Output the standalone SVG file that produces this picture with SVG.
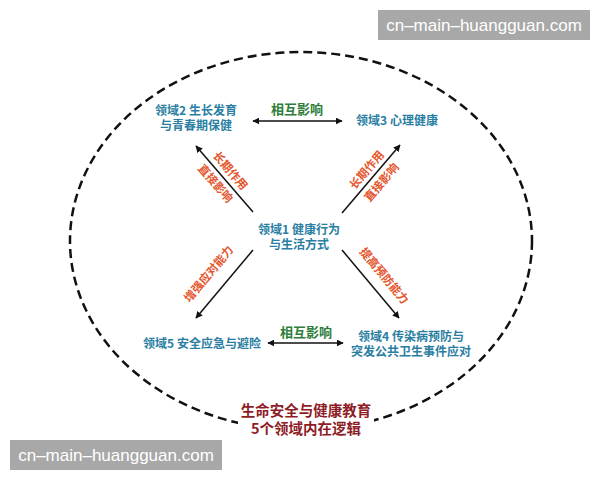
<svg xmlns="http://www.w3.org/2000/svg" width="600" height="480" viewBox="0 0 600 480">
<defs>
<marker id="ah" viewBox="0 0 10 10" refX="9" refY="5" markerWidth="7" markerHeight="7" markerUnits="userSpaceOnUse" orient="auto-start-reverse">
<path d="M0,0 L10,5 L0,10 Z" fill="#111"/>
</marker>
<style>
.node{font-family:"Noto Sans CJK SC","Liberation Sans",sans-serif;font-size:12px;font-weight:bold;fill:#2a7ea2;text-anchor:middle}
.mut{font-family:"Noto Sans CJK SC","Liberation Sans",sans-serif;font-size:13px;font-weight:bold;fill:#2e7d3a;text-anchor:middle}
.eff{font-family:"Noto Sans CJK SC","Liberation Sans",sans-serif;font-size:11.5px;font-weight:bold;fill:#e4572e;text-anchor:middle}
.title{font-family:"Noto Sans CJK SC","Liberation Sans",sans-serif;font-size:14.5px;font-weight:bold;fill:#8e1c26;text-anchor:middle}
.wm{font-family:"Liberation Sans",Arial,sans-serif;font-size:17px;fill:#ffffff}
.conn{stroke:#111;stroke-width:1.5;fill:none}
</style>
</defs>
<rect width="600" height="480" fill="#ffffff"/>
<ellipse cx="301" cy="241" rx="231" ry="189" fill="none" stroke="#111" stroke-width="2.5" stroke-dasharray="9 5"/>
<rect x="238" y="398" width="136" height="44" fill="#ffffff"/>
<g id="connectors">
<line class="conn" x1="253" y1="121" x2="342" y2="121" marker-start="url(#ah)" marker-end="url(#ah)"/>
<line class="conn" x1="268" y1="343" x2="343" y2="343" marker-start="url(#ah)" marker-end="url(#ah)"/>
<line class="conn" x1="253" y1="212" x2="196" y2="146" marker-end="url(#ah)"/>
<line class="conn" x1="342" y1="213" x2="400" y2="145" marker-end="url(#ah)"/>
<line class="conn" x1="253" y1="250" x2="196" y2="318" marker-end="url(#ah)"/>
<line class="conn" x1="342" y1="250" x2="399" y2="318" marker-end="url(#ah)"/>
<text class="mut" x="297" y="114">相互影响</text>
<text class="mut" x="306" y="337">相互影响</text>
<g transform="translate(223,177) rotate(49.2)">
<text class="eff" x="0" y="-5.5">长期作用</text>
<text class="eff" x="0" y="14">直接影响</text>
</g>
<g transform="translate(374,176) rotate(-49.5)">
<text class="eff" x="0" y="-5.5">长期作用</text>
<text class="eff" x="0" y="14">直接影响</text>
</g>
<g transform="translate(216,280) rotate(-50)">
<text class="eff" x="0" y="-5.5">增强应对能力</text>
</g>
<g transform="translate(378,281) rotate(50)">
<text class="eff" x="0" y="-4">提高预防能力</text>
</g>
</g>
<g id="node1">
<text class="node" x="299" y="234">领域1 健康行为</text>
<text class="node" x="299" y="249">与生活方式</text>
</g>
<g id="node2">
<text class="node" x="196" y="115">领域2 生长发育</text>
<text class="node" x="196" y="130">与青春期保健</text>
</g>
<g id="node3">
<text class="node" x="397" y="125">领域3 心理健康</text>
</g>
<g id="node4">
<text class="node" x="411" y="341">领域4 传染病预防与</text>
<text class="node" x="411" y="356">突发公共卫生事件应对</text>
</g>
<g id="node5">
<text class="node" x="202" y="348">领域5 安全应急与避险</text>
</g>
<g id="title">
<text class="title" x="306" y="416">生命安全与健康教育</text>
<text class="title" x="306" y="434">5个领域内在逻辑</text>
</g>
<g id="watermarks">
<rect x="378" y="10" width="212" height="30" fill="#a8a8a8"/>
<text class="wm" x="484" y="31" text-anchor="middle">cn–main–huangguan.com</text>
<rect x="10" y="440" width="212" height="30" fill="#a8a8a8"/>
<text class="wm" x="116" y="461" text-anchor="middle">cn–main–huangguan.com</text>
</g>
</svg>
